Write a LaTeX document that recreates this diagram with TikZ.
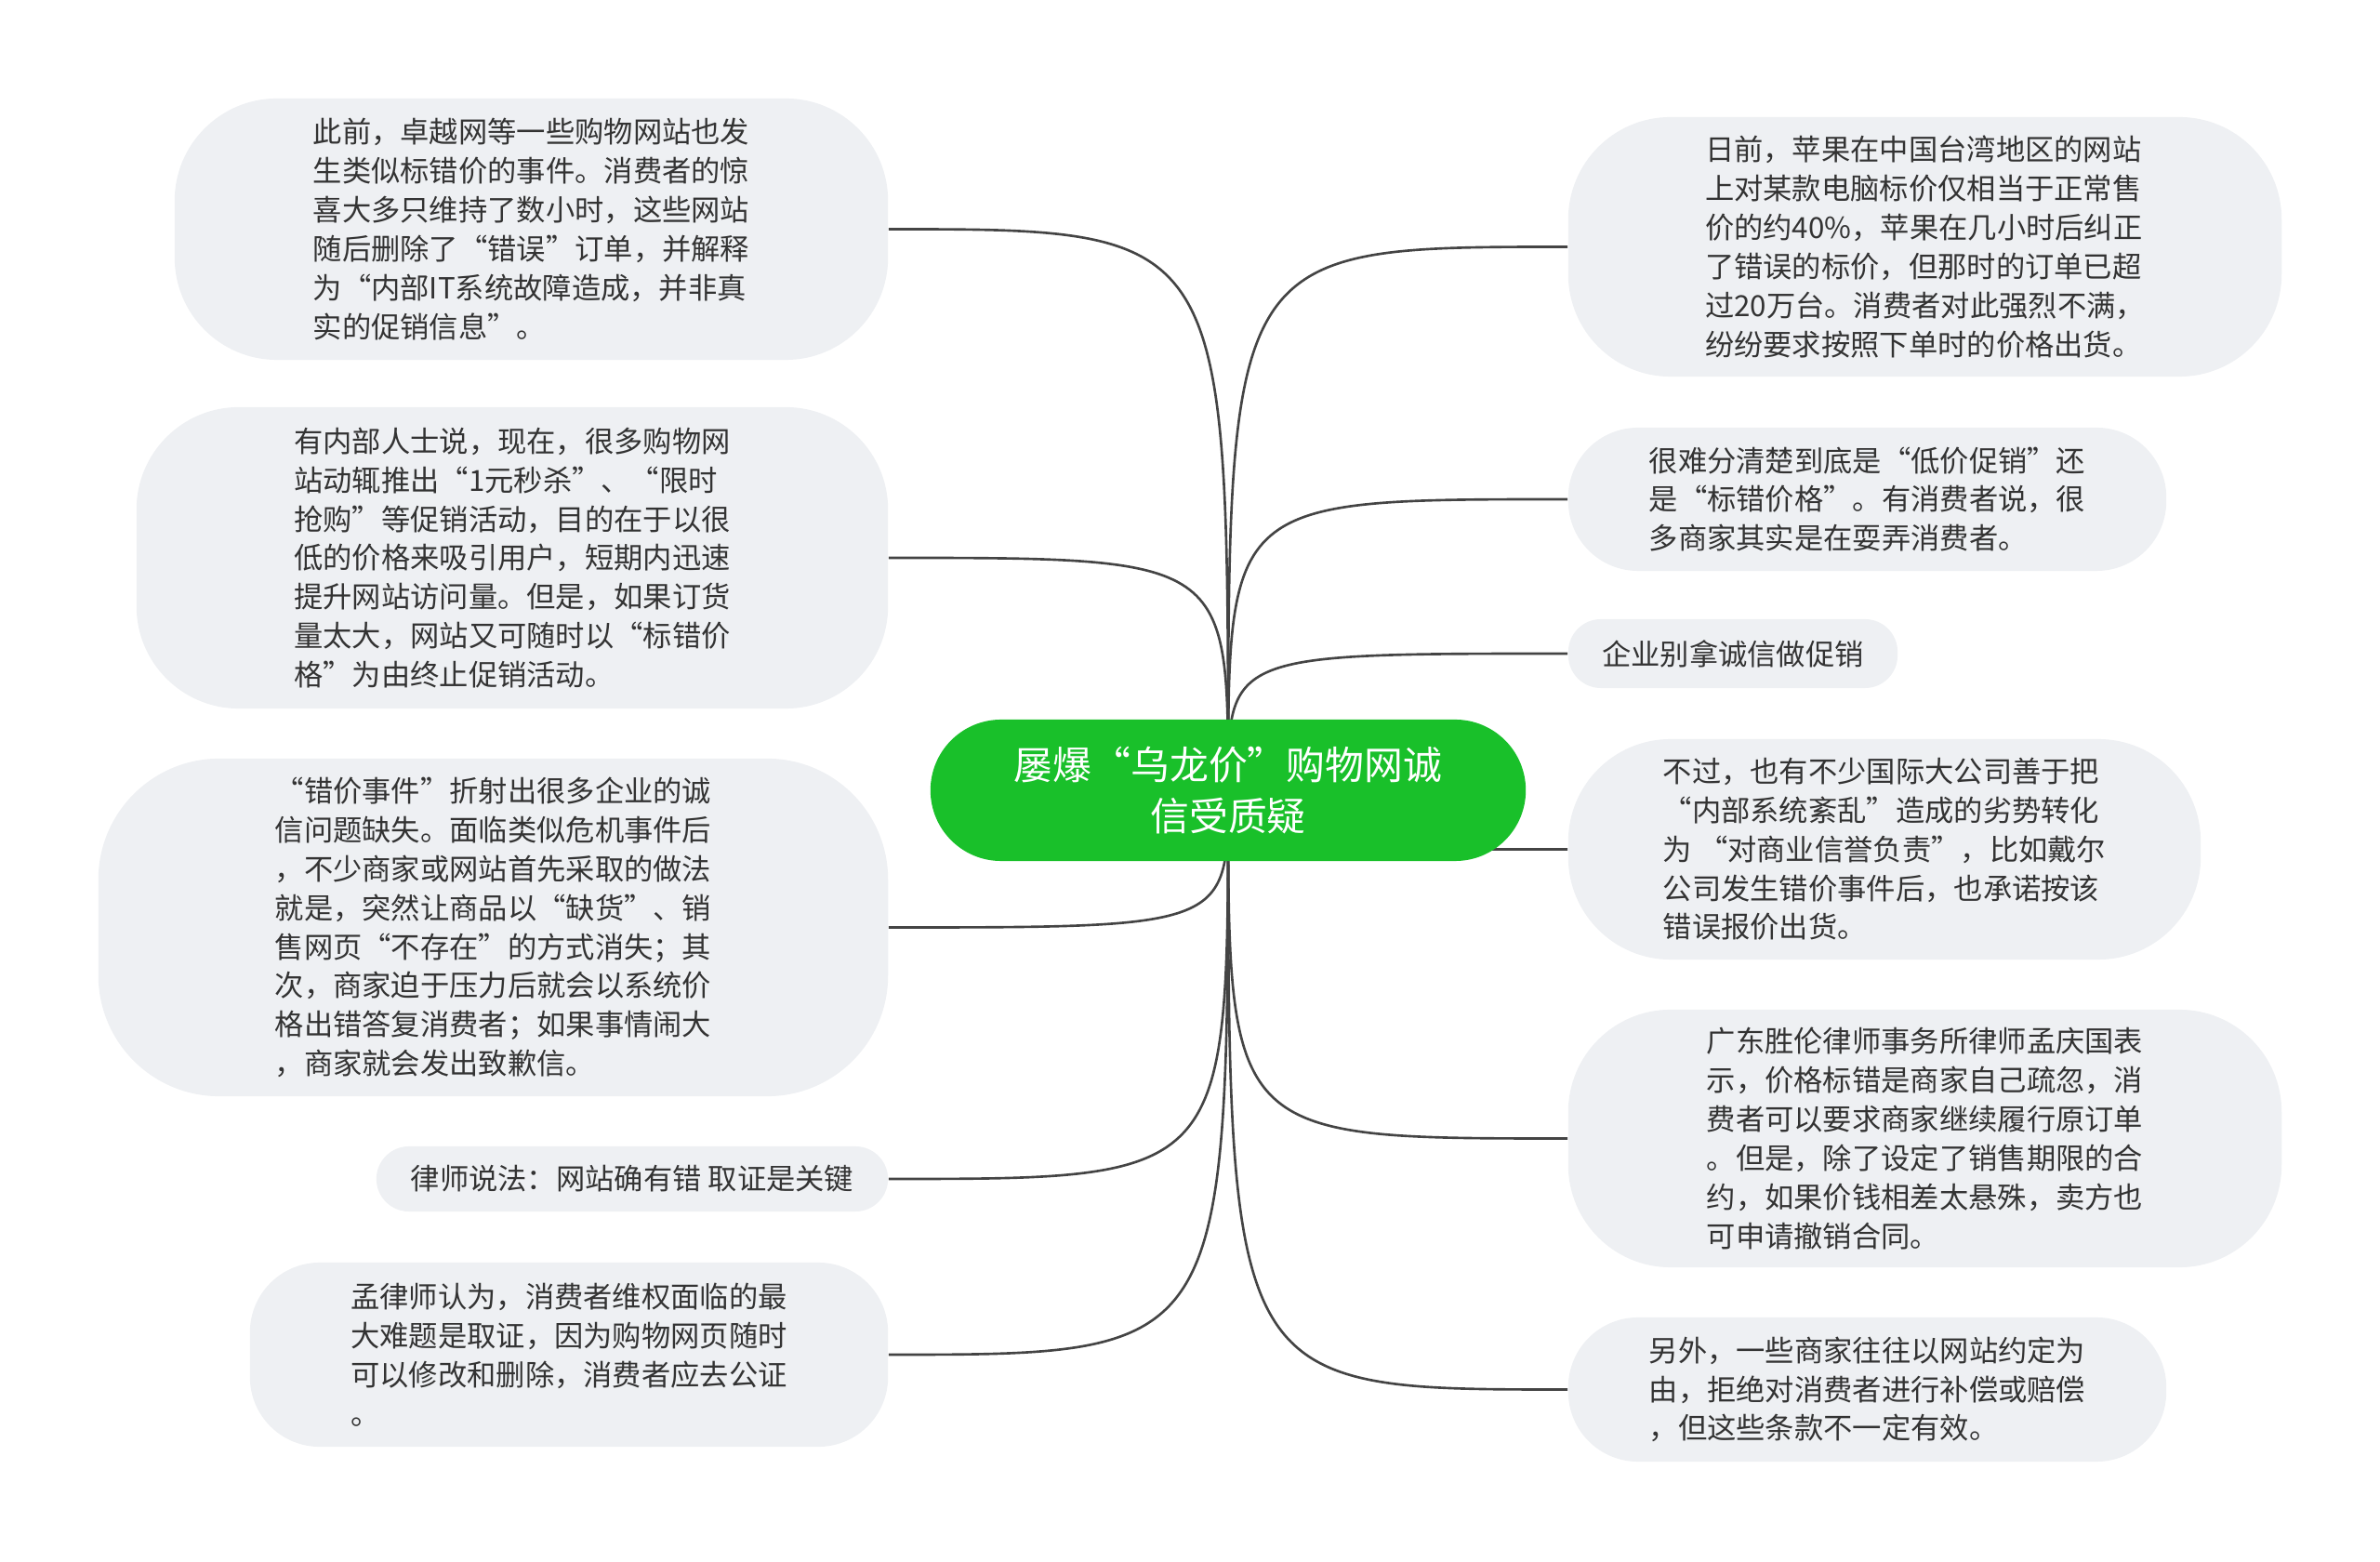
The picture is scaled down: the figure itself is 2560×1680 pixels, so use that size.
\documentclass[tikz,border=0pt]{standalone}
\usepackage{fontspec}
\setmainfont{Noto Sans CJK SC}
\usetikzlibrary{backgrounds}
\definecolor{leafgray}{HTML}{EEF0F3}
\definecolor{topicgreen}{HTML}{19C02A}
\definecolor{inkgray}{HTML}{333333}
\definecolor{linegray}{HTML}{444444}

\begin{document}
\begin{tikzpicture}[x=0.01cm, y=-0.01cm,
  leaf/.style = {fill=leafgray, text=inkgray, align=left, inner sep=0pt, rounded corners=1.1cm, font=\fontsize{8.9pt}{11.9pt}\selectfont},
  mid/.style = {rounded corners=0.75cm},
  small/.style = {rounded corners=0.35cm},
  topic/.style = {fill=topicgreen, text=white, align=center, inner sep=0pt, rounded corners=0.76cm, font=\fontsize{11.9pt}{15.8pt}\selectfont},
  link/.style = {draw=linegray, line width=0.75pt}]
  \useasboundingbox (0,0) rectangle (2560,1680);
  \node[topic, minimum width=6.4cm, minimum height=1.52cm] (c) at (1321,850) {屡爆“乌龙价”购物网诚\\信受质疑};
  % left side
  \node[leaf, minimum width=7.67cm, minimum height=2.81cm] (l1) at (571.5,246.5) {此前，卓越网等一些购物网站也发\\生类似标错价的事件。消费者的惊\\喜大多只维持了数小时，这些网站\\随后删除了“错误”订单，并解释\\为“内部IT系统故障造成，并非真\\实的促销信息”。};
  \node[leaf, minimum width=8.08cm, minimum height=3.24cm] (l2) at (551,600) {有内部人士说，现在，很多购物网\\站动辄推出“1元秒杀”、“限时\\抢购”等促销活动，目的在于以很\\低的价格来吸引用户，短期内迅速\\提升网站访问量。但是，如果订货\\量太大，网站又可随时以“标错价\\格”为由终止促销活动。};
  \node[leaf, minimum width=8.49cm, minimum height=3.63cm, rounded corners=1.3cm] (l3) at (530.5,997.5) {“错价事件”折射出很多企业的诚\\信问题缺失。面临类似危机事件后\\，不少商家或网站首先采取的做法\\就是，突然让商品以“缺货”、销\\售网页“不存在”的方式消失；其\\次，商家迫于压力后就会以系统价\\格出错答复消费者；如果事情闹大\\，商家就会发出致歉信。};
  \node[leaf, small, minimum width=5.5cm, minimum height=0.7cm] (l4) at (680,1268) {律师说法：网站确有错 取证是关键};
  \node[leaf, mid, minimum width=6.86cm, minimum height=1.98cm] (l5) at (612,1457) {孟律师认为，消费者维权面临的最\\大难题是取证，因为购物网页随时\\可以修改和删除，消费者应去公证\\。};
  % right side
  \node[leaf, minimum width=7.67cm, minimum height=2.79cm] (r1) at (2070.5,265.5) {日前，苹果在中国台湾地区的网站\\上对某款电脑标价仅相当于正常售\\价的约40\%，苹果在几小时后纠正\\了错误的标价，但那时的订单已超\\过20万台。消费者对此强烈不满，\\纷纷要求按照下单时的价格出货。};
  \node[leaf, mid, minimum width=6.43cm, minimum height=1.54cm] (r2) at (2008.5,537) {很难分清楚到底是“低价促销”还\\是“标错价格”。有消费者说，很\\多商家其实是在耍弄消费者。};
  \node[leaf, small, minimum width=3.54cm, minimum height=0.74cm] (r3) at (1864,703) {企业别拿诚信做促销};
  \node[leaf, minimum width=6.8cm, minimum height=2.37cm] (r4) at (2027,913.5) {不过，也有不少国际大公司善于把\\“内部系统紊乱”造成的劣势转化\\为 “对商业信誉负责”，比如戴尔\\公司发生错价事件后，也承诺按该\\错误报价出货。};
  \node[leaf, minimum width=7.67cm, minimum height=2.77cm] (r5) at (2070.5,1224.5) {广东胜伦律师事务所律师孟庆国表\\示，价格标错是商家自己疏忽，消\\费者可以要求商家继续履行原订单\\。但是，除了设定了销售期限的合\\约，如果价钱相差太悬殊，卖方也\\可申请撤销合同。};
  \node[leaf, mid, minimum width=6.43cm, minimum height=1.55cm] (r6) at (2008.5,1494.5) {另外，一些商家往往以网站约定为\\由，拒绝对消费者进行补偿或赔偿\\，但这些条款不一定有效。};
  \begin{scope}[on background layer]
  \draw[link] (c.center) .. controls (c.center |- l1.east) .. (l1.east);
  \draw[link] (c.center) .. controls (c.center |- l2.east) .. (l2.east);
  \draw[link] (c.center) .. controls (c.center |- l3.east) .. (l3.east);
  \draw[link] (c.center) .. controls (c.center |- l4.east) .. (l4.east);
  \draw[link] (c.center) .. controls (c.center |- l5.east) .. (l5.east);
  \draw[link] (c.center) .. controls (c.center |- r1.west) .. (r1.west);
  \draw[link] (c.center) .. controls (c.center |- r2.west) .. (r2.west);
  \draw[link] (c.center) .. controls (c.center |- r3.west) .. (r3.west);
  \draw[link] (c.center) .. controls (c.center |- r4.west) .. (r4.west);
  \draw[link] (c.center) .. controls (c.center |- r5.west) .. (r5.west);
  \draw[link] (c.center) .. controls (c.center |- r6.west) .. (r6.west);
  \end{scope}
\end{tikzpicture}
\end{document}
